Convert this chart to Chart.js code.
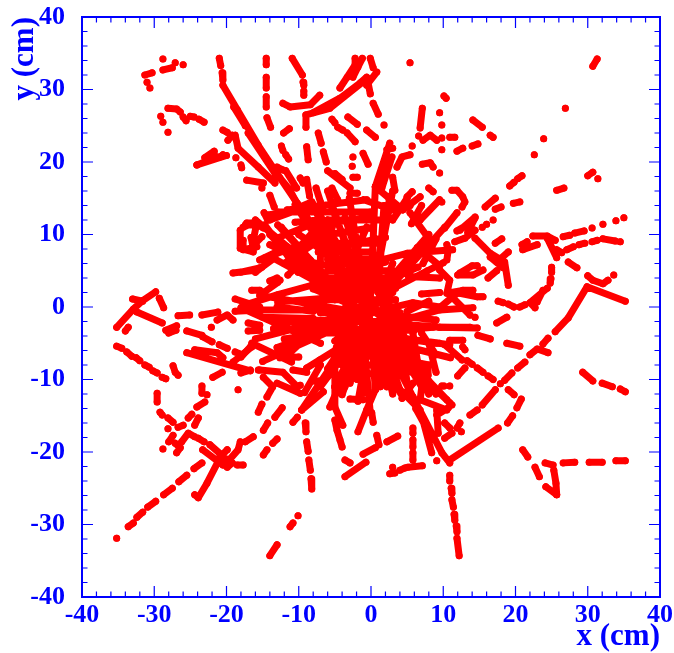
<!DOCTYPE html>
<html>
<head>
<meta charset="utf-8">
<title>Tracks</title>
<script src="https://cdn.jsdelivr.net/npm/chart.js@4"></script>
<style>
  html, body { margin: 0; padding: 0; background: #fff; }
  canvas { display: block; }
</style>
</head>
<body>
<canvas id="trackChart" width="674" height="653"></canvas>
<script>
// Axis values
var majorTicks = [-40, -30, -20, -10, 0, 10, 20, 30, 40];
var minorTicks = [-38, -36, -34, -32, -28, -26, -24, -22, -18, -16, -14, -12, -8, -6, -4, -2, 2, 4, 6, 8, 12, 14, 16, 18, 22, 24, 26, 28, 32, 34, 36, 38];

// Hits, each row one unbroken run: x, y, x, y, ...
var upperLeftHits = [
  [-28.8,34.2], [-28.8,32.7,-27.5,33], [-27.1,33.7], [-26,33.4], [-31.3,32,-30.3,32.3], [-31,31], [-30.6,30.2],
  [-28.1,27.4,-26.9,27.3,-26.4,26.9], [-26,26.2,-25.6,25.7], [-25,26.3,-24.5,26.2], [-23.8,25.9,-23.1,25.5],
  [-29.1,26.3], [-28.8,25.5], [-28.1,24.1], [-24.1,19.6,-21.3,20.7], [-23,20.6,-21.7,21.5], [-24.1,19.6,-20,20.9],
  [-21,34.3,-20.8,33.3], [-20.6,32.3,-20.5,31.3], [-20.5,30.6,-18.5,27.2,-15.6,22.3,-13.6,19.3,-10.2,14.3,-8.9,12.4],
  [-17,24,-13,18], [-19,27.6,-17.4,25],
  [-14.5,34.3,-14.5,33.4], [-14.5,31.7,-14.5,30.2], [-14.5,29,-14.5,27.6], [-14.4,26.1,-13.9,24.8],
  [-12.4,22.2,-12.2,21.6], [-11.8,21,-11.4,20.4], [-12.1,24,-11.3,24.6],
  [-10.9,34.3,-9.5,32], [-9.4,31,-9.3,30.6], [-9.3,29.8,-9.3,29.2],
  [-12.2,28.1,-11.2,27.6,-8.4,27.9,-7.1,29.2], [-9,26.5,-9,24.8], [-9,26.5,-5.7,27.4,-0.8,31.3],
  [-8,26.8,-4.3,28.8,-1.5,30.9,-0.6,31.7], [-2.2,34.3,-2.2,33.4,-3.3,31.7,-4.3,30.2],
  [-0.1,34.3,0.3,33], [0.8,32.4,-0.6,30.6], [-1.2,34.3,-1.8,33.1,-2.5,31.7], [-0.4,30.9,-0.1,29.4],
  [5.4,33.7], [0.3,28.1,1,26.6], [1.8,25.1], [-5.4,25.9,-5,25.4], [-4.6,24.8,-3.9,24.4], [-3.2,26.2,-1.9,25.2],
  [-3.3,24,-2.2,22.8], [-0.6,24.4,0.6,23.4], [-7.3,24,-6.9,22.6], [-6.6,21.4,-6.2,20], [-8.9,22.1,-8.7,20.3],
  [-2.5,20.7], [-2.6,19.4], [-2.5,17.9,-1.9,17.9], [-1.1,21.2,-0.4,19.7], [-6,18.8,-2.9,16.4], [-5,18.4,-4,17.6],
  [-2.9,15.7,-1.9,15.7], [-9.8,17.8,-9.4,17.1], [-8.9,17.6,-8.5,15.3], [-20.5,24.4,-19.9,24.1], [-19.2,23.7,-19.8,23],
  [-20.5,21,-20.9,20.7], [-18.8,23.7,-18.4,21.9,-15.6,19.3,-13.3,17.1], [-18.7,20.6], [-18,19.6,-17.9,19.2],
  [-17.2,17.5,-14.9,17.1], [-15.1,16.4], [-14,15.4,-13.4,13.8], [-14.8,13,-14.3,12], [-13,19.3,-12.2,18.9],
  [-12.6,17.8,-11.2,16.1], [-11.8,18.8,-10.3,16.4], [-7.6,16.4,-7,14.5], [-5.4,16.4,-4.6,14.8]
];

var upperRightHits = [
  [0.6,16.6,2.6,22.6], [1.5,16.4,2.9,20.7], [2.2,21.7,3,21.9], [3,17.9,3.3,16.1], [2.6,15.2,2.5,14.3], [3.6,19.3,4.3,20.7,5.4,21],
  [7.1,27.4,6.8,24.7], [6.6,23.6], [5.7,22.2], [7.2,23,8.2,23.7,9.1,23], [7.1,19.7,8.2,19.9,8.6,19.3], [8,16.4,8.6,15.9],
  [5.7,15.9,5,15.2], [6.8,15.2,4.4,13.4], [10.1,29.1,10.4,28.8], [9.5,26.8], [9.8,25.1], [9.8,23.3], [9.8,21.7],
  [10.9,23.4,11.6,23.4], [11.9,21.5,12.7,21.9], [14,22.2,14.8,22.5], [14.1,25.8,15.4,24.8], [16.5,23.7,16.9,23.4],
  [26.9,27.4], [23.9,23.2], [22.6,21], [30.7,33.2,31.3,34.2], [30,18.1,30.7,18.6], [31.4,17.7], [25.7,16.1,26.7,16.4],
  [19.2,16.7,19.8,17.2], [20.3,17.7,20.9,18.1], [19.7,14.3,20.6,14.5], [15.8,13.8,17.2,15], [17.2,13.5,18,13.8],
  [10.2,10.9,11.9,13], [12.3,10.6,14.4,12.4], [11.2,16.1,11.9,16.1,12.7,15.2,13,14.5,12.6,13.8], [9.8,14.5], [9.5,18.5],
  [16.9,12], [16,11.4], [15.4,11], [11.9,10.5,13.3,11.3], [13.4,10.3,14.4,12.3],
  [11.6,9,13,9.5,14.4,10.6], [14.4,9.5,16.5,7.4,18.5,6.2,19,3], [16.2,4,17.4,5], [17.4,6.2,19,7.6], [16.5,6.9,18.3,5.4],
  [17.2,8.8,18.1,9.4], [12,4.4,14.1,4.4,15.5,5.1], [12.3,4.7,14,5.7,14.7,5.7],
  [22.4,9.8,24.4,9.8,25.5,9.2], [20.9,8.6,21.6,9], [21,7.9,23,8.6], [26.6,9.7,27.5,9.9], [28.2,10.2,29.5,10.5],
  [30.6,10.9], [32.1,11.4], [33.9,11.9], [35,12.3], [27.1,7.9,28,8.3], [28.8,8.6,29.6,8.8], [30.6,9,31.3,9.2],
  [32.1,9.4,33.8,9.1], [34.5,9], [24.4,9.5,25.7,6.8], [25.7,7.9,26.4,7.5], [25,5.5,25,4.8], [24.9,3.9,24.8,3.3],
  [24.4,2.6,22,0.6,22.7,-0.1], [23.8,2.3,23,0.7], [20.6,0,21.3,0.3], [17.6,0.8,18.3,0.6], [19,0.4,19.8,0],
  [27.3,6.2,28.5,5.4], [30,4.3,30.7,3.7,32.1,3.2,32.8,3.7], [33.6,4.4],
  [10.5,8.6,10.7,7.9,10.5,6.5], [9.5,5.1,10.9,3.7,10.5,1.9,12.7,2.3,14.1,2.3], [10.9,1.7,13.7,-1.1], [12.3,1.9,14.7,1.4],
  [14.4,-1.4], [15.1,1.4,15.5,1.4], [9.5,-0.1,11.9,1.9]
];

var lowerRightHits = [
  [35.2,0.8,29.9,2.8,27.3,-1.5,25.5,-3.4], [24.5,-4.3,23.8,-5.1], [22,-6.6,23,-5.8,24.5,-6.3], [20.3,-8.4,21.3,-7.6],
  [18.5,-10.1,19.5,-9.1], [17.9,-10.6], [15.4,-13.5,17.2,-11.4], [17.6,-16.7,10.9,-21.1], [13.7,-14.9,14.7,-14.2],
  [19,-11.4,19.8,-12.1], [20.8,-12.7,20.2,-13.9], [19.6,-15,18.9,-16], [29.3,-9,30.7,-10.2], [32,-10.5,33.4,-11], [34.5,-11.3,35.2,-11.7],
  [17.4,-2.2,18.8,-1.4], [9.5,-2.8,14.7,-2.9], [14.8,-3.9,16.5,-4.4], [18.8,-5,20.6,-5.4], [10.2,-5.2,12.6,-7.3],
  [10.9,-4.6,12.7,-4.6], [12.7,-5.5,13,-5.9], [13.3,-7.4,14,-7.9], [14.7,-8.4,15.5,-9], [16.2,-9.5,16.9,-10],
  [12,-9.5,13,-8.4], [10.9,-10.9], [9.8,-10.9], [9.5,-11.9,11.2,-13.5],
  [4,-11.4,6.8,-14.2,8.4,-20.1], [5.8,-12.4,9.8,-20.1,10.9,-21.5], [6.2,-14,8.4,-18],
  [10.9,-23.2,10.9,-24], [11.1,-25,11.2,-25.7], [11.2,-26.6,11.4,-27.6], [11.5,-28.6,11.6,-29.4], [11.8,-30.2,11.9,-31], [11.9,-31.9,12.2,-34.3],
  [9.1,-21.2], [5.8,-16.7,5.8,-17.4], [5.8,-18.3,5.8,-19.3], [5.8,-20.1,5.8,-21.1], [5.1,-22.1,7.1,-21.9], [4,-22.5,4.7,-22.2],
  [2.6,-23,3.3,-22.9], [3,-22.1], [2.2,-18.6,3.7,-17.8], [0.8,-17.7,1.1,-19], [-1.1,-20.3,0.6,-19.4], [-3.6,-23.4,-0.7,-21.4],
  [-3.6,-21.1,-2.9,-21.5], [10.9,-13.2,9.1,-11.4], [9.1,-14.9,10.7,-13.9], [10.2,-16,10.9,-16.7], [12.3,-16,11.9,-16.7],
  [12.5,-17.2], [10.2,-18.1,11.2,-17.4], [9.1,-14.2,9.3,-17.4],
  [21,-19.7,21.7,-20.7], [22.7,-22.1,23.3,-23.4], [24.1,-21.5,25.2,-21.8], [25.3,-22.5,25.6,-24.3,25.7,-25.9],
  [24.2,-24.8,25.7,-25.9], [26.6,-21.5,28.2,-21.4], [30.2,-21.4,32,-21.4], [33.9,-21.2,35.2,-21.2],
  [7.2,-9.7,6.8,-12.8,10.5,-14.2], [7.9,-8.3,7.9,-9.4], [7.8,-10,10.5,-12.8], [10.1,-10.9], [4.3,-12.6,5.8,-10.5]
];

var lowerLeftHits = [
  [-35.2,-31.9], [-33.6,-30.3,-32.9,-29.8], [-32.4,-29,-31.6,-28.3], [-30.9,-27.6,-29.8,-26.8], [-28.7,-25.9,-27.5,-25],
  [-26.6,-24.1,-25.5,-23.2], [-24.5,-22.3,-23.4,-21.5], [-21.3,-21.1,-19.9,-19.7], [-24.4,-25.9,-23.9,-26.3,-22.7,-24.3,-21.2,-21.4],
  [-23.3,-19.7,-20.5,-21.8], [-22.3,-19,-19.9,-21.1], [-19.9,-21.4,-18.4,-19.7,-18.1,-18.6], [-19.9,-22.1,-19.2,-21.5],
  [-18.5,-21.8,-17.7,-21.8], [-17.4,-18.6,-16.3,-17.9], [-15.6,-14.5,-15.1,-13.4], [-14.9,-20.4,-14.4,-19.7], [-13.6,-18.8,-13,-18.2],
  [-14.9,-17,-14.3,-16], [-13.3,-15.2,-12.3,-13.9], [-10.8,-15.9,-10.2,-15.2], [-9.6,-14.2,-6.6,-11.7],
  [-5,-11,-5,-13.8,-3.9,-16.3], [-5,-15.6,-4.7,-17,-4.3,-18.3,-4,-19.3], [-9.1,-16,-9,-17.2], [-8.9,-18.6,-8.7,-19.9], [-8.6,-21.1,-8.4,-22.5],
  [-8.3,-23.7,-8.2,-25.1], [-10.1,-28.8], [-11.2,-30.3,-10.8,-29.8], [-14,-34.3,-13,-32.8], [-1.8,-17.2,-0.6,-14.2,0.6,-11.4],
  [0.1,-14.6,0.3,-15.9], [-2.9,-12.7,-1.1,-12.8],
  [-29.2,-14.5,-28.9,-14.9], [-28.1,-15.3,-27.4,-15.9], [-26.7,-16.6,-26,-16.3], [-28.1,-16.8], [-27.4,-17.7,-28,-18.6],
  [-27.1,-18.8,-26.4,-19.4,-26.9,-20.1], [-28.8,-19.6], [-26.2,-18.6,-25.3,-17.4,-24.4,-17.9], [-23.9,-18.1,-23.1,-18.6],
  [-25.3,-15.3,-24.8,-14.8], [-24.4,-16.3,-23.9,-15.3], [-24.1,-13.8,-23,-13.1],
  [-35.2,-2.8,-32.9,-0.3,-31.7,0.8,-29.8,2.1], [-33,1.1,-31.6,0.8], [-34,-3.3,-33.6,-2.8], [-29.3,1.2,-28.7,-0.1], [-32.4,-0.7,-28.9,-2.2],
  [-35.2,-5.4,-34.5,-5.7], [-33.8,-6.2,-33.1,-6.8], [-32.5,-7,-32,-7.4], [-31.3,-8,-30.7,-8.3], [-30.2,-8.8,-29.6,-9.1], [-28.9,-9.7,-28.4,-9.9],
  [-27.4,-8.1,-27.1,-9,-26.7,-9.4], [-29.6,-11.9,-29.6,-13.1], [-21.9,-9.7,-20.6,-9], [-23.4,-10.9,-23.4,-11.9], [-22.7,-12.1],
  [-18.4,-11.4], [-28.4,-3.2,-26.9,-2.6], [-28,-3.6,-27,-3.2], [-26.7,-1.2,-25.1,-1.1], [-23.4,-1.1,-21.2,-0.7],
  [-25.5,-3.3,-23.4,-3.9], [-23.3,-4.1,-22,-4.8], [-21.3,-1.8,-19.9,-1.1,-19.1,-1.8], [-22.1,-2.8], [-21,-5.2,-19.9,-5.7],
  [-25.5,-6.3,-16.7,-8.8], [-24.4,-5.9,-21.3,-6.3,-20.5,-7], [-19.1,-7.6,-16.5,-5.5], [-18.8,-6.2,-17.8,-6.6], [-15.6,-8.7]
];

var coreHits = [
  // left side
  [-19.1,4.7,-15.8,5.1], [-16.5,2.3,-15.4,2.3], [-18.8,1.1,-15.4,0], [-18.8,-0.6,-15.4,-0.4], [-17,-2.2,-15.4,-2.5], [-17,-3.3,-15.4,-3.2],
  [-17.7,9.2,-17.7,7.9,-15.8,8.3], [-18.1,10.6,-18.1,8.1,-16.3,7.6], [-17.2,11.6,-15.8,11.6,-16.3,9.2], [-17.7,11,-16.3,11.6,-14.9,10.9],
  [-18,-0.1,-7,-5], [-15.4,6.5,-11.6,8.3,-8.4,6.5], [-18,4.8,-15.4,5.4], [-13.6,3.3,-12.6,3.7],
  [-18,-6.9,-16.7,-5.5], [-18,-9.1,-16.7,-8.7], [-15.4,-8.7,-12.2,-9,-10.2,-11], [-10.8,-8.7,-8.9,-9], [-14.9,-9.7,-13.6,-11,-14.4,-12.4],
  [-13,-10.5,-9.8,-11.9], [-11.2,-6.3,-9.8,-5], [-16,-4.4,-3,-1], [-15.4,1.6,-3,-0.5], [-8,2.5,-2,0], [-14,-1.6,-2,-2], [-13,-5.6,-3,-2],
  [-15,-7.5,-5,-3], [-14,7,-3,1], [-17.4,0.3,-12.9,1.7,-8.2,3,-3.6,4.4], [-17.4,-0.4,-0.1,-0.4], [-12.9,0.7,-0.1,1.7], [-7.5,3.4,-0.1,3.4],
  [-14.7,2.1,-12.9,3.4], [-16,4.8,-15.1,5.5,-13.3,6.8], [-11.5,4.4,-10.5,5.4,-6.8,4], [-9.1,-2.2,-1.1,-3.6], [-9.8,-2.8,-1.1,-3.6], [-8,-3.6,-1.1,-3.6],
  [-7.1,-7.3,-1.1,-3.6], [-8.9,-8.4,-1.1,-3.6], [-5.7,-13.8,-1.1,-3.6], [-4,-12.1,-1.1,-3.6], [-2.9,-10.5,-1.1,-3.6], [-1.1,-11.9,-1.1,-3.6],
  [-15,-1.4,-8,-1.6], [-13.5,-3,-8,-3.2], [-12,-4.4,-6.8,-3.6], [-12.6,-7,-10,-6.9], [-16.5,-5,-11,-7.6], [-13,0,-8,-0.6], [-7.8,-10.2,-7.1,-10.2], [-9.8,-10.8],
  // upper side
  [-11.6,13.4,-0.6,14.8], [-14,12,-10.2,13.4], [-14.3,12.7,-11.5,13.1,-8.2,14.5], [-17.4,11.3,-14.7,11.3,-11.9,7.6,-10.1,4.8], [-12.9,11.3,-6.4,4.4],
  [-10.5,14.1,-6,7.2,-2.2,1.7], [-8.2,14.5,-4,7.6,-1.2,1.7], [-5.4,13.7,-3.2,8.1], [-3.6,12.3,-0.8,4], [-14,8.6,-10.5,6.8,-6.8,5.8,-4,5.8],
  [-14.7,6.8,-9.6,8.6,-6.8,11.7], [-7.3,7.6,-0.1,7.6], [-6.4,9.9,-0.1,10.9], [-12.9,13.1,-0.1,13.1], [-5.4,11.7,-0.1,12.3], [-10.5,11.7,-7.3,12],
  [-16.6,9.6,-16.3,8.2], [-15.9,8.9,-15.1,9.7], [-11.2,16.1,-9.8,13.4,-7.1,8.8,-4.3,4.1], [-8.9,12.4,-3,3], [-16,12,-4,2], [-14,10,-5,1],
  [-12.4,11,-3.5,1], [-8,14,-3,3], [-6,16,-2,4], [-3,15,-1,3], [0.6,16.6,0,2], [3,16,0.5,3], [1.8,14,1,3], [-10,10,-4,6], [-7,11,-7,6],
  [-4.8,13,-6.2,8], [0.6,16.6,4.4,13.4], [-1,14.8,3,13.4,5.4,14], [-13,9.5,-8,11.5], [-9,8.5,-6,12], [-0.6,11,-2.8,6], [2,13.5,1,6], [-1,9,2,9.6], [-0.5,5.5,2,6.2],
  // right side
  [5.4,13,7.8,9.7], [6.8,12,9.5,14.8], [7,14,5.6,11.5], [5,15,3,12], [1.5,9,1,3], [10.2,11,2,2], [8,10,1,2], [-2.5,5.5,5,7.4,11.3,7.9], [1.2,1.6,7.8,5,10,6.1],
  [1.5,-0.4,5.8,0.6,9.5,0], [2,-2.5,9.5,-0.4,14.1,-0.1], [2.2,-2.2,9.5,-2.8,13.7,-2.8], [1,1,3,6], [7,1.8,9.5,2], [2,-4,9.5,-5], [3,-5,11,-7], [2,-1,9,-1.8],
  [1,3,6.5,5.5], [-1.1,-3.6,8.6,-2.8], [-1.1,-3.6,9.1,-5], [-1.1,-3.6,10.9,-5.2], [5,-0.6,8,0.8], [7,-3.6,9,-6.6], [7.2,6,9,9.4], [6.4,8.2,9.5,5.7], [5.2,4.2,9.5,4],
  // lower side
  [-1,-3,-5,-11], [-1,-3,-7,-11], [-2,-3,-9.6,-14.2], [-1,-3,-3.6,-11], [0,-3,-1.8,-13], [0,-3,0.6,-11.4], [1,-3,2,-10], [1,-3,3,-12], [1,-3,4,-11.4],
  [1,-3,5.8,-12.4], [2,-3,7,-11], [3,-3,8,-12], [4,-3,9,-12], [6,-5,7,-11], [-3,-3,-5,-4.7], [-3,-4,-6,-8.5], [2,-5,5,-9], [-5,-11,-5,-8], [-7,-8,-9.2,-11.8],
  [8,-5,9,-9], [4,-8,5.5,-6], [-1.1,-3.6,-0.1,-14.6], [-1.1,-3.6,2.2,-11], [-1.1,-3.6,4.4,-12.4], [-1.1,-3.6,6.5,-9.7], [5.8,-3.6,6.8,-9.7],
  [4,-4,5,-10.4], [2.2,-5,3.2,-11], [0.6,-5,1.3,-11], [-1.6,-5,-1.9,-10], [-3,-5,-3.8,-9.6], [-4.2,-5,-6,-9.6], [3,-7,8,-8],
  // centre
  [-3,5,2,-8], [-1,6,0.5,-8], [-3.5,0,2.5,-6], [-4,-3,3,2], [-3,3,2,-2], [-3,-5,1,-7], [0,5,-2,-8], [1.5,-7.5,-3,-2], [-4,2,3,0], [-4,-1,3,-3], [-2,6,1,-1],
  [-6,5,3,5], [-6,4,3,4], [-7,2.6,3.4,2.6], [-7,1,3.4,1], [-7,-0.8,4,-0.8], [-7,-2,5,-2], [-6.6,-3.2,6,-3.2], [-4.6,-4.4,5,-4.4], [-4.8,-5.6,5,-5.6], [-5,-6.8,4,-6.8], [-4,-8,3,-8], [-3,-9.2,2,-9.2],
  [-6,6.6,2,6.6], [-5,8.8,1.4,8.8], [-12,-2,-5,-2.8], [-14,3.6,-13,4], [-12,6,-6,10], [-6,12,2,12]
];

var regions = [upperLeftHits, upperRightHits, lowerRightHits, lowerLeftHits, coreHits];

// turn rows into {x,y} points, a NaN point breaks the line between runs
function toPoints(rows) {
  var pts = [];
  rows.forEach(function(row) {
    for (var i = 0; i < row.length; i += 2) pts.push({ x: row[i], y: row[i + 1] });
    pts.push({ x: NaN, y: NaN });
  });
  return pts;
}

// ticks point inward on all four sides, so they are drawn here from the scales
var frameTicks = {
  id: 'frameTicks',
  afterDraw: function(chart) {
    var c = chart.ctx, a = chart.chartArea;
    var sx = chart.scales.x, sy = chart.scales.y;
    c.save();
    c.strokeStyle = '#0000ff';
    c.lineWidth = 1.2;
    function mark(list, len) {
      list.forEach(function(v) {
        var px = sx.getPixelForValue(v), py = sy.getPixelForValue(v);
        c.beginPath();
        c.moveTo(px, a.bottom); c.lineTo(px, a.bottom - len);
        c.moveTo(px, a.top); c.lineTo(px, a.top + len);
        c.moveTo(a.left, py); c.lineTo(a.left + len, py);
        c.moveTo(a.right, py); c.lineTo(a.right - len, py);
        c.stroke();
      });
    }
    mark(majorTicks, 11);
    mark(minorTicks, 5.5);
    c.lineWidth = 2;
    c.strokeRect(a.left, a.top, a.right - a.left, a.bottom - a.top);
    c.restore();
  }
};

var blue = '#0000ff';
var tickFont = { family: '"Liberation Serif"', size: 26, weight: 'bold' };
var titleFont = { family: '"Liberation Serif"', size: 31, weight: 'bold' };

new Chart(document.getElementById('trackChart').getContext('2d'), {
  type: 'scatter',
  data: {
    datasets: regions.map(function(rows) {
      return {
        data: toPoints(rows),
        showLine: true,
        spanGaps: false,
        borderColor: '#ff0000',
        backgroundColor: '#ff0000',
        borderWidth: 7,
        borderCapStyle: 'round',
        borderJoinStyle: 'round',
        pointRadius: 3.5,
        pointBorderWidth: 0
      };
    })
  },
  options: {
    responsive: false,
    animation: false,
    layout: { padding: { top: 17, right: 14 } },
    plugins: { legend: { display: false }, tooltip: { enabled: false } },
    scales: {
      x: {
        min: -40, max: 40,
        afterBuildTicks: function(s) { s.ticks = majorTicks.map(function(v) { return { value: v }; }); },
        afterFit: function(s) { s.height = 56; s.paddingLeft = 0; s.paddingRight = 0; },
        grid: { display: false }, border: { display: false },
        ticks: { color: blue, font: tickFont, padding: -5, maxRotation: 0, autoSkip: false },
        title: { display: true, text: 'x (cm)', align: 'end', color: blue, font: titleFont, padding: { top: 0, bottom: -3 } }
      },
      y: {
        min: -40, max: 40,
        afterBuildTicks: function(s) { s.ticks = majorTicks.map(function(v) { return { value: v }; }); },
        afterFit: function(s) { s.width = 82; s.paddingTop = 0; s.paddingBottom = 0; },
        grid: { display: false }, border: { display: false },
        ticks: { color: blue, font: tickFont, padding: 9, autoSkip: false },
        title: { display: true, text: 'y (cm)', align: 'end', color: blue, font: titleFont, padding: { top: 6, bottom: 0 } }
      }
    }
  },
  plugins: [frameTicks]
});
</script>
</body>
</html>
